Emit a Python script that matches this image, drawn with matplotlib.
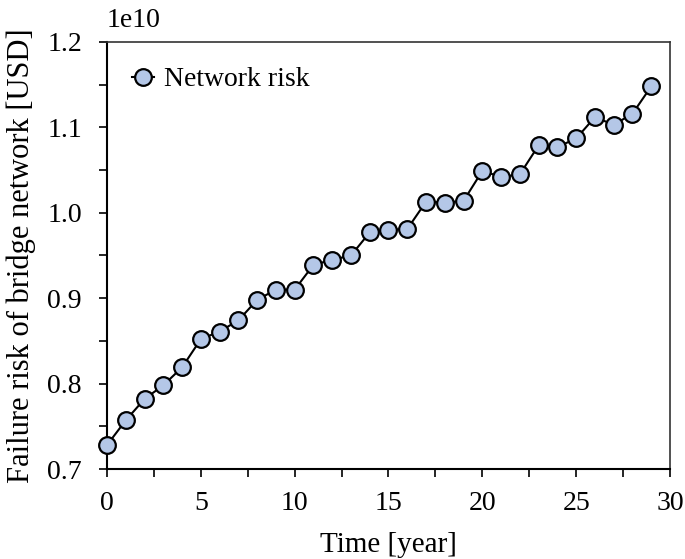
import numpy as np
import matplotlib
matplotlib.use('Agg')
import matplotlib.pyplot as plt
from matplotlib.ticker import MultipleLocator, FuncFormatter

plt.rcParams['font.family'] = ['Liberation Serif', 'DejaVu Serif']

# data (USD)
years = list(range(30))
network_risk = [0.728, 0.757, 0.782, 0.798, 0.819, 0.852, 0.861, 0.874, 0.898, 0.910,
                0.910, 0.939, 0.945, 0.950, 0.977, 0.980, 0.981, 1.013, 1.012, 1.014,
                1.049, 1.042, 1.045, 1.079, 1.077, 1.087, 1.112, 1.103, 1.116, 1.148]
network_risk = np.array(network_risk) * 1e10

fig = plt.figure(figsize=(6.85, 5.59), dpi=100)
ax = fig.add_axes([0.1562, 0.161, 0.8219, 0.7639])

ax.plot(years, network_risk, color='black', lw=1.5, marker='o', markersize=12,
        markerfacecolor='#b4c7e7', markeredgecolor='black', markeredgewidth=1.6,
        label='Network risk', zorder=3, clip_on=False)

ax.set_xlim(0, 30)
ax.set_ylim(0.7e10, 1.2e10)
ax.xaxis.set_major_locator(MultipleLocator(5))
ax.xaxis.set_minor_locator(MultipleLocator(2.5))
ax.yaxis.set_major_locator(MultipleLocator(0.1e10))
ax.yaxis.set_minor_locator(MultipleLocator(0.05e10))
ax.yaxis.set_major_formatter(FuncFormatter(lambda v, p: '%.1f' % (v / 1e10)))
ax.tick_params(which='both', direction='out', length=6, width=1.2, labelsize=20,
               top=False, right=False)
ax.tick_params(axis='x', pad=10)
ax.tick_params(axis='y', pad=12)

# scale factor shown above the y axis
ax.text(0.0, 1.02, '1e10', transform=ax.transAxes, fontsize=20,
        ha='left', va='bottom')

for s in ['left', 'bottom']:
    ax.spines[s].set_linewidth(1.5)
for s in ['top', 'right']:
    ax.spines[s].set_linewidth(1.2)
    ax.spines[s].set_color('#333333')

ax.set_xlabel('Time [year]', fontsize=21, labelpad=11)
ax.set_ylabel('Failure risk of bridge network [USD]', fontsize=22, labelpad=8)

leg = ax.legend(loc='upper left', frameon=False, fontsize=20, handlelength=0.8,
                handletextpad=0.35, borderaxespad=0.5)

fig.savefig('out.png', dpi=100)
